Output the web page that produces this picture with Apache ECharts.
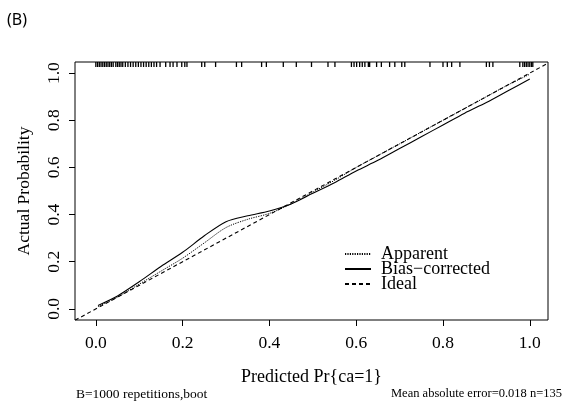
<!DOCTYPE html>
<html>
<head>
<meta charset="utf-8">
<script src="https://cdn.jsdelivr.net/npm/echarts@6/dist/echarts.min.js"></script>
<style>html,body{margin:0;padding:0;background:#fff;}#c{width:581px;height:401px;}</style>
</head>
<body>
<div id="c"></div>
<script>
// ---- data ----
var predX = [0.005, 0.05, 0.1, 0.15, 0.2, 0.25, 0.3, 0.35, 0.4, 0.45, 0.5, 0.55, 0.6, 0.65, 0.7, 0.75, 0.8, 0.85, 0.9, 0.95, 1.0];
var apparent = [0.01, 0.05, 0.105, 0.16, 0.215, 0.28, 0.345, 0.38, 0.405, 0.445, 0.495, 0.545, 0.6, 0.65, 0.7, 0.75, 0.8, 0.85, 0.9, 0.95, 0.995];
var biasCorrected = [0.015, 0.055, 0.115, 0.18, 0.24, 0.31, 0.37, 0.395, 0.415, 0.445, 0.49, 0.535, 0.585, 0.63, 0.68, 0.73, 0.78, 0.83, 0.875, 0.925, 0.975];
var idealX = [-0.048, 1.042];
var idealY = [-0.048, 1.042];
var rugX = [0.000,0.004,0.008,0.012,0.016,0.020,0.024,0.028,0.032,0.036,0.040,0.046,0.050,0.054,0.058,0.062,0.068,0.074,0.080,0.086,0.092,0.098,0.104,0.110,0.116,0.122,0.128,0.134,0.140,0.148,
  0.161,0.171,0.178,0.187,0.198,0.205,0.210,0.244,0.251,0.276,0.324,0.336,0.382,0.393,0.432,0.462,0.497,0.535,0.551,
  0.589,0.595,0.601,0.608,0.614,0.620,0.628,0.631,0.647,0.658,0.677,0.689,0.705,0.712,0.770,0.800,0.810,0.820,0.839,
  0.900,0.907,0.915,0.977,0.984,0.988,0.992,0.996,1.000,1.004,1.007];
var tickValues = [0.0, 0.2, 0.4, 0.6, 0.8, 1.0];
var seriesNames = ['Apparent', 'Bias\u2212corrected', 'Ideal'];

var X_MIN = -0.048, X_MAX = 1.042, Y_MIN = -0.047, Y_MAX = 1.047;
var serif = '"Liberation Serif","DejaVu Serif",serif';

function pairs(xs, ys) { return xs.map(function (x, i) { return [x, ys[i]]; }); }

var chart = echarts.init(document.getElementById('c'), null, {renderer: 'canvas'});
chart.setOption({
  animation: false,
  backgroundColor: '#fff',
  grid: {left: 75, right: 33, top: 62, bottom: 81, show: true, borderColor: '#000', borderWidth: 1, backgroundColor: 'transparent'},
  xAxis: {
    type: 'value', min: X_MIN, max: X_MAX,
    name: 'Predicted Pr{ca=1}', nameLocation: 'middle', nameGap: 48,
    nameTextStyle: {fontFamily: serif, fontSize: 18, color: '#000'},
    axisLine: {show: false, onZero: false},
    splitLine: {show: false},
    axisTick: {show: true, inside: false, length: 6, customValues: tickValues, lineStyle: {color: '#000', width: 1}},
    axisLabel: {show: true, customValues: tickValues, margin: 14, fontFamily: serif, fontSize: 17.5, color: '#000',
      formatter: function (v) { return v.toFixed(1); }}
  },
  yAxis: {
    type: 'value', min: Y_MIN, max: Y_MAX,
    name: 'Actual Probability', nameLocation: 'middle', nameGap: 42,
    nameTextStyle: {fontFamily: serif, fontSize: 17.5, color: '#000'},
    axisLine: {show: false, onZero: false},
    splitLine: {show: false},
    axisTick: {show: true, inside: false, length: 6, customValues: tickValues, lineStyle: {color: '#000', width: 1}},
    axisLabel: {show: true, customValues: tickValues, rotate: 90, margin: 12, fontFamily: serif, fontSize: 17.5, color: '#000',
      formatter: function (v) { return v.toFixed(1); }}
  },
  legend: {
    show: true, orient: 'vertical', left: 339, top: 240,
    itemWidth: 26, itemHeight: 12, itemGap: -3,
    itemStyle: {color: 'transparent', borderColor: 'transparent', borderWidth: 0, opacity: 0},
    textStyle: {fontFamily: serif, fontSize: 18, color: '#000', padding: [0, 0, 0, 5]},
    data: seriesNames
  },
  series: [
    {name: seriesNames[0], type: 'line', data: pairs(predX, apparent), showSymbol: false, symbol: 'none', smooth: 0.3,
      lineStyle: {color: '#000', width: 1, type: [1.2, 1.2]}, itemStyle: {color: '#000'}},
    {name: seriesNames[1], type: 'line', data: pairs(predX, biasCorrected), showSymbol: false, symbol: 'none', smooth: 0.3,
      lineStyle: {color: '#000', width: 1.1, type: 'solid'}, itemStyle: {color: '#000'}},
    {name: seriesNames[2], type: 'line', data: pairs(idealX, idealY), showSymbol: false, symbol: 'none',
      lineStyle: {color: '#000', width: 1.1, type: [4, 3]}, itemStyle: {color: '#000'}},
    {name: 'rug', type: 'custom', silent: true,
      data: rugX.map(function (v) { return [v]; }),
      encode: {x: 0},
      renderItem: function (params, api) {
        var p = api.coord([api.value(0), Y_MAX]);
        return {type: 'line', shape: {x1: p[0], y1: p[1], x2: p[0], y2: p[1] + 5},
          style: {stroke: '#000', lineWidth: 1.3}};
      }}
  ],
  graphic: [
    {type: 'text', left: 7, top: 12, style: {text: '(B)', font: '16px "Noto Sans","DejaVu Sans",sans-serif', fill: '#000', letterSpacing: 4}},
    {type: 'text', left: 76, top: 387, style: {text: 'B=1000 repetitions,boot', font: '13.5px ' + serif, fill: '#000'}},
    {type: 'text', right: 19, top: 387, style: {text: 'Mean absolute error=0.018 n=135', font: '12.5px ' + serif, fill: '#000'}}
  ]
});
</script>
</body>
</html>
